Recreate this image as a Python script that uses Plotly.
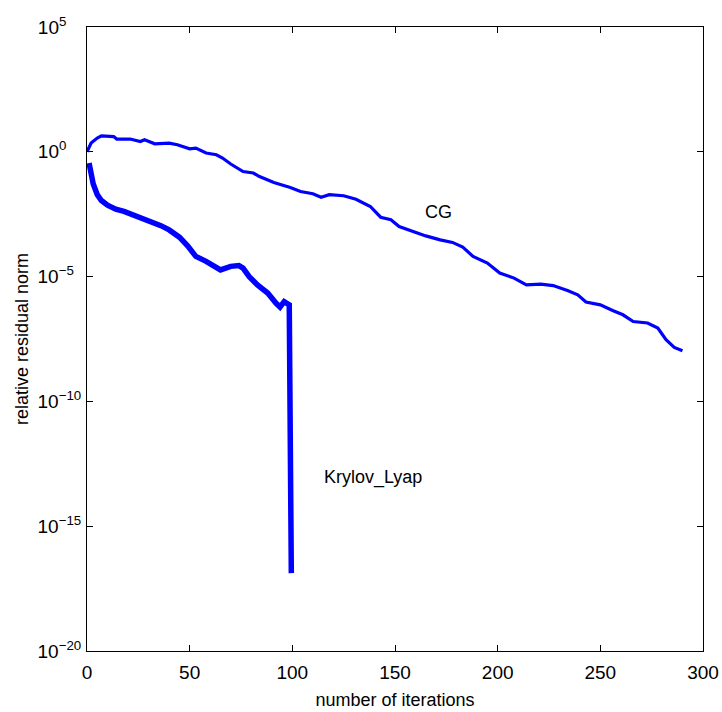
import math
import plotly.graph_objects as go

# ---- data ----
cg_iter = [0, 2, 5, 7, 13, 14.5, 21, 26, 28, 33, 40, 44, 50, 53, 58, 63, 66, 70, 76, 81,
           84, 91, 99, 104, 110, 114, 118, 125, 131, 138, 143, 148, 152, 159, 165, 172,
           178, 183, 188, 195, 201, 208, 214, 221, 227, 234, 239, 243, 250, 256, 261,
           266, 273, 278, 282, 286, 290]
cg_res = [1.0, 2.24, 3.55, 4.37, 4.07, 3.24, 3.24, 2.57, 3.02, 2.09, 2.24, 1.91, 1.32,
          1.41, 0.891, 0.759, 0.562, 0.324, 0.162, 0.141, 0.102, 5.89e-2, 3.72e-2,
          2.57e-2, 2.09e-2, 1.51e-2, 1.91e-2, 1.74e-2, 1.26e-2, 6.46e-3, 2.40e-3,
          1.91e-3, 1.02e-3, 6.46e-4, 4.27e-4, 2.95e-4, 2.34e-4, 1.51e-4, 6.46e-5,
          3.47e-5, 1.38e-5, 8.71e-6, 4.68e-6, 5.01e-6, 4.37e-6, 2.75e-6, 1.86e-6,
          9.55e-7, 7.41e-7, 4.37e-7, 2.95e-7, 1.58e-7, 1.38e-7, 8.71e-8, 2.95e-8,
          1.45e-8, 1.07e-8]

kl_iter = [1, 2, 3, 5, 7, 10, 14, 18, 20, 23, 27, 31, 36, 40, 45, 49, 53, 58, 65, 70,
           74, 76, 79, 83, 88, 92, 94, 96, 98.5, 99.5]
kl_res = [0.355, 0.112, 5.25e-2, 1.91e-2, 1.12e-2, 7.24e-3, 5.01e-3, 4.07e-3, 3.55e-3,
          2.57e-3, 2.19e-3, 1.62e-3, 1.10e-3, 7.41e-4, 3.80e-4, 1.70e-4, 6.46e-5,
          4.07e-5, 1.86e-5, 2.57e-5, 2.75e-5, 2.19e-5, 1.0e-5, 4.68e-6, 2.19e-6,
          8.71e-7, 6.03e-7, 1.0e-6, 7.41e-7, 1.32e-17]

x_ticks = [0, 50, 100, 150, 200, 250, 300]
y_ticks = [1e5, 1e0, 1e-5, 1e-10, 1e-15, 1e-20]
# exponents are padded with no-break spaces so the "10" bases line up as in the reference
y_ticktext = ["10<sup>5\u00a0\u00a0\u00a0\u00a0</sup>", "10<sup>0\u00a0\u00a0\u00a0\u00a0</sup>",
              "10<sup>\u22125\u00a0\u00a0</sup>", "10<sup>\u221210</sup>",
              "10<sup>\u221215</sup>", "10<sup>\u221220</sup>"]

labels = ["CG", "Krylov_Lyap"]
label_x = [163.5, 114.5]
label_y = [4.0e-3, 8.7e-14]

FONT = "Liberation Sans, Arial, Helvetica, sans-serif"
BLUE = "#0000ff"

fig = go.Figure()
fig.add_trace(go.Scatter(x=cg_iter, y=cg_res, mode="lines",
                         line=dict(color=BLUE, width=3.2), name="CG"))
fig.add_trace(go.Scatter(x=kl_iter, y=kl_res, mode="lines",
                         line=dict(color=BLUE, width=5.5), name="Krylov_Lyap"))

for t, xv, yv in zip(labels, label_x, label_y):
    fig.add_annotation(x=xv, y=math.log10(yv), xref="x", yref="y", text=t, showarrow=False,
                       xanchor="left", yanchor="middle",
                       font=dict(family=FONT, size=18, color="black"))

fig.update_layout(
    width=722, height=712,
    margin=dict(l=87, r=19, t=27, b=61),
    paper_bgcolor="white", plot_bgcolor="white",
    showlegend=False,
    font=dict(family=FONT, size=18, color="black"),
)
fig.update_xaxes(
    range=[0, 300], tickvals=x_ticks, ticks="inside", ticklen=6, tickcolor="black",
    showline=True, linecolor="black", linewidth=1, mirror="ticks",
    showgrid=False, zeroline=False, automargin=False, ticklabelstandoff=4,
    tickfont=dict(family=FONT, size=19, color="black"),
    title=dict(text="number of iterations", font=dict(family=FONT, size=18), standoff=11),
)
fig.update_yaxes(
    type="log", range=[-20, 5], tickvals=y_ticks, ticktext=y_ticktext,
    ticks="inside", ticklen=6, tickcolor="black",
    showline=True, linecolor="black", linewidth=1, mirror="ticks",
    showgrid=False, zeroline=False, automargin=False, ticklabelstandoff=1,
    tickfont=dict(family=FONT, size=19, color="black"),
    title=dict(text="relative residual norm", font=dict(family=FONT, size=18), standoff=4),
)

# remove the default page margin so the figure fills the window exactly
fig.write_html("out.html", config={"displayModeBar": False},
               post_script="document.body.style.margin='0';document.body.style.overflow='hidden';")
